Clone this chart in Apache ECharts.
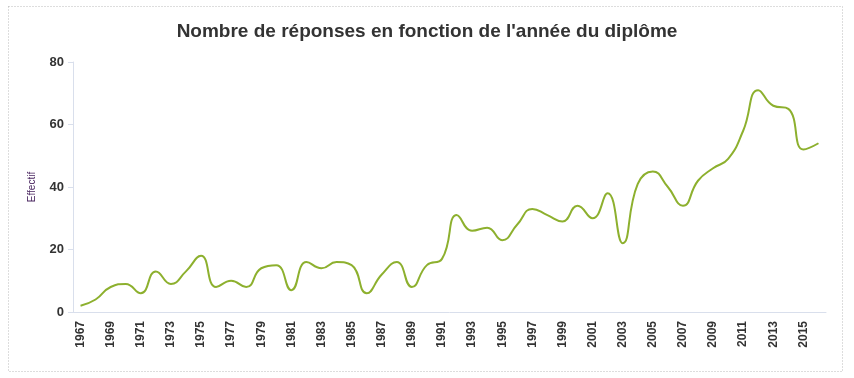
<!DOCTYPE html>
<html>
<head>
<meta charset="utf-8">
<script src="https://cdn.jsdelivr.net/npm/echarts@6/dist/echarts.min.js"></script>
<style>
  html, body { margin: 0; padding: 0; background: #fff; }
  #chart { width: 854px; height: 378px; }
</style>
</head>
<body>
<div id="chart"></div>
<script>
const years = [];
for (let y = 1967; y <= 2016; y++) years.push(String(y));

// Effectif per graduation year
const effectif = [
  2, 4, 8, 9, 6, 13, 9, 13, 18, 8,
  10, 8, 14, 15, 7, 16, 14, 16, 15, 6,
  12, 16, 8, 15, 17, 31, 26, 27, 23, 28,
  33, 31, 29, 34, 30, 38, 22, 41, 45, 40,
  34, 42, 46, 49, 58, 71, 66, 65, 52, 54
];

const yTicks = [0, 20, 40, 60, 80];

const chart = echarts.init(document.getElementById('chart'));

chart.setOption({
  animation: false,
  title: {
    text: "Nombre de réponses en fonction de l'année du diplôme",
    left: 'center',
    top: 17,
    textStyle: {
      fontFamily: 'Liberation Sans',
      fontSize: 19,
      fontWeight: 'bold',
      color: '#333'
    }
  },
  graphic: [{
    type: 'rect',
    shape: { x: 8.5, y: 6.5, width: 834, height: 365 },
    style: { fill: 'none', stroke: '#bbb', lineWidth: 1, lineDash: [1, 2] },
    silent: true
  }],
  grid: { left: 73, right: 28, top: 62, bottom: 66 },
  xAxis: {
    type: 'category',
    data: years,
    boundaryGap: true,
    axisLine: { lineStyle: { color: '#d9dfec' } },
    axisTick: { alignWithLabel: true, interval: 1, length: 5, lineStyle: { color: '#d9dfec' } },
    axisLabel: {
      interval: 1,
      rotate: 90,
      fontFamily: 'Liberation Sans',
      fontSize: 12,
      fontWeight: 'bold',
      color: '#333',
      margin: 9
    },
    splitLine: { show: false }
  },
  yAxis: {
    type: 'value',
    min: yTicks[0],
    max: yTicks[yTicks.length - 1],
    interval: 20,
    name: 'Effectif',
    nameLocation: 'middle',
    nameGap: 36,
    nameTextStyle: { fontFamily: 'Liberation Sans', fontSize: 10, color: '#4a2660' },
    axisLine: { show: true, lineStyle: { color: '#d9dfec' } },
    axisTick: { show: true, length: 5, lineStyle: { color: '#d9dfec' } },
    axisLabel: {
      fontFamily: 'Liberation Sans',
      fontSize: 13,
      fontWeight: 'bold',
      color: '#333',
      margin: 9
    },
    splitLine: { show: false }
  },
  series: [{
    type: 'line',
    data: effectif,
    smooth: 0.5,
    showSymbol: false,
    lineStyle: { color: '#8db02e', width: 2 }
  }]
});
</script>
</body>
</html>
